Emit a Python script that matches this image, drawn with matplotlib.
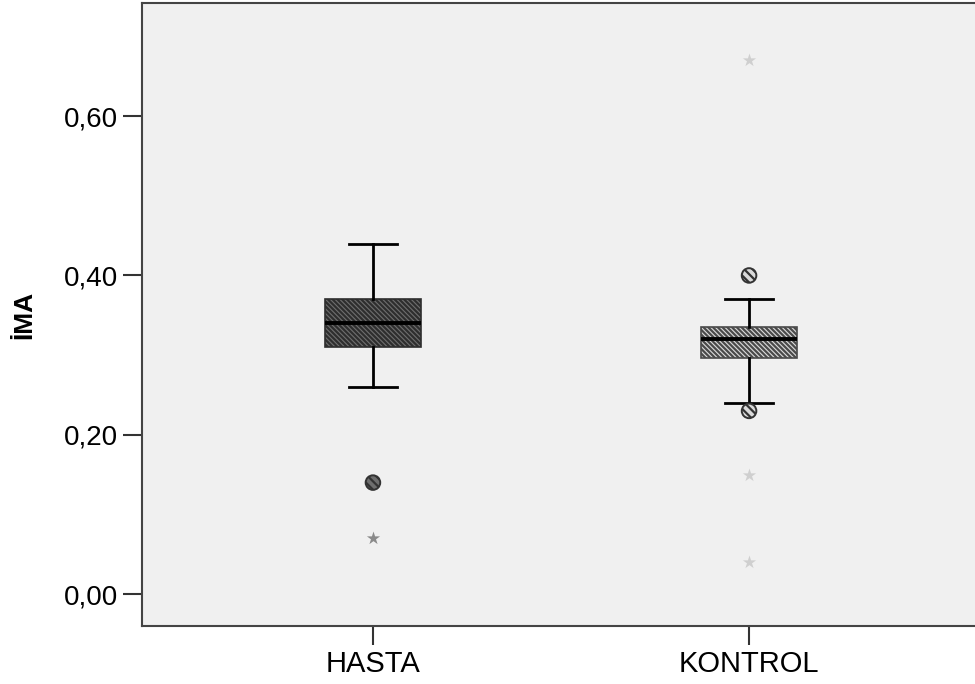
import numpy as np
import matplotlib.pyplot as plt

groups = ['HASTA', 'KONTROL']
q1 = [0.31, 0.297]
med = [0.34, 0.32]
q3 = [0.37, 0.335]
whislo = [0.26, 0.24]
whishi = [0.44, 0.37]
outliers = [[0.14], [0.40, 0.23]]   # circles
extremes = [[0.07], [0.67, 0.15, 0.04]]  # stars

box_colors = ['#6e6e6e', '#dadada']
hatch_colors = ['#2e2e2e', '#4a4a4a']
star_colors = ['#8a8a8a', '#cfcfcf']

plt.rcParams['font.family'] = ['Liberation Sans', 'DejaVu Sans']
plt.rcParams['hatch.linewidth'] = 1.6

fig = plt.figure(figsize=(9.75, 6.84), dpi=100)
ax = fig.add_axes([142/975, 1 - 626/684, (980-142)/975, (626-3)/684])
ax.set_facecolor('#f0f0f0')

pos = [1, 2]
stats = []
for i in range(len(groups)):
    stats.append(dict(med=med[i], q1=q1[i], q3=q3[i], whislo=whislo[i],
                      whishi=whishi[i], fliers=[], label=groups[i]))

bp = ax.bxp(stats, positions=pos, widths=0.253, patch_artist=True,
            showfliers=False,
            medianprops=dict(color='black', linewidth=2.8),
            whiskerprops=dict(color='black', linewidth=2),
            capprops=dict(color='black', linewidth=2),
            boxprops=dict(linewidth=1.2),
            capwidths=0.128)
for patch, c, hc in zip(bp['boxes'], box_colors, hatch_colors):
    patch.set_facecolor(c)
    patch.set_edgecolor(hc)
    patch.set_hatch('\\' * 7)

for i, p in enumerate(pos):
    ax.scatter([p] * len(outliers[i]), outliers[i], s=110, facecolor=box_colors[i],
               edgecolor='#333333', linewidth=1.4, hatch='\\\\\\\\', zorder=3)
    ax.scatter([p] * len(extremes[i]), extremes[i], s=100, marker='*',
               color=star_colors[i], linewidth=0, zorder=3)

ax.set_xlim(0.386, 2.614)
ax.set_ylim(-0.040, 0.742)
ax.set_yticks([0.0, 0.2, 0.4, 0.6])
ax.set_yticklabels(['0,00', '0,20', '0,40', '0,60'])
ax.set_xticks(pos)
ax.set_xticklabels(groups)
ax.tick_params(axis='both', length=14, width=1.5, color='#333333',
               labelsize=20, pad=3)
ax.tick_params(axis='x', labelsize=21)
for s in ['left', 'bottom', 'top', 'right']:
    ax.spines[s].set_color('#444444')
    ax.spines[s].set_linewidth(1.5)

ax.set_ylabel('İMA', fontsize=19, fontweight='bold', labelpad=20)

fig.savefig('out.png', dpi=100)
